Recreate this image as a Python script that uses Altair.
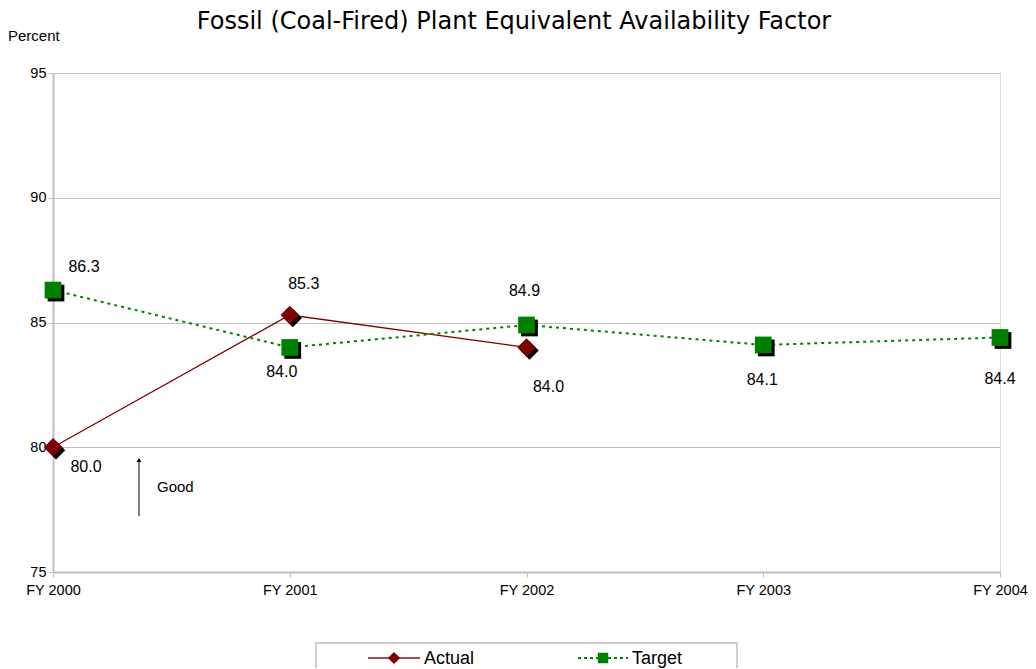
import altair as alt
import pandas as pd

years = ["FY 2000", "FY 2001", "FY 2002", "FY 2003", "FY 2004"]
actual = [80.0, 85.3, 84.0]
target = [86.3, 84.0, 84.9, 84.1, 84.4]
y_ticks = [75, 80, 85, 90, 95]
title_text = "Fossil (Coal-Fired) Plant Equivalent Availability Factor"

W, H = 947, 499
GRID = "#c0c0c0"
RED = "#800000"
GREEN = "#008000"
FONT = "Liberation Sans"

act_df = pd.DataFrame({"year": years[:len(actual)], "value": actual, "series": "Actual"})
tgt_df = pd.DataFrame({"year": years, "value": target, "series": "Target"})

x = alt.X("year:N", sort=years,
          scale=alt.Scale(type="point", padding=0, domain=years),
          axis=alt.Axis(title=None, labelAngle=0, labelFont=FONT, labelFontSize=14.5,
                        labelColor="black", domainColor=GRID, domainWidth=2,
                        tickColor=GRID, tickSize=5, labelPadding=6, grid=False))
y = alt.Y("value:Q",
          scale=alt.Scale(domain=[75, 95], nice=False, zero=False),
          axis=alt.Axis(title=None, values=y_ticks, labelFont=FONT, labelFontSize=14.5,
                        labelColor="black", domainColor=GRID, domainWidth=2,
                        tickColor=GRID, tickSize=5, labelPadding=2,
                        grid=True, gridColor=GRID, gridWidth=1))

act_line = alt.Chart(act_df).mark_line(color=RED, strokeWidth=1.3).encode(x=x, y=y)
tgt_line = alt.Chart(tgt_df).mark_line(color=GREEN, strokeWidth=2, strokeDash=[3, 4]).encode(x=x, y=y)

act_shadow = alt.Chart(act_df).mark_point(shape="diamond", size=340, filled=True, color="black",
                                          opacity=1, xOffset=3, yOffset=3).encode(x=x, y=y)
act_pts = alt.Chart(act_df).mark_point(shape="diamond", size=340, filled=True, color=RED,
                                       opacity=1).encode(x=x, y=y)
tgt_shadow = alt.Chart(tgt_df).mark_point(shape="square", size=280, filled=True, color="black",
                                          opacity=1, xOffset=3, yOffset=3).encode(x=x, y=y)
tgt_pts = alt.Chart(tgt_df).mark_point(shape="square", size=280, filled=True, color=GREEN,
                                       opacity=1).encode(x=x, y=y)

# per-label offsets (pixels), as placed in the original chart
act_off = [(33, 20), (14, -31), (22, 40)]
tgt_off = [(31, -23), (-8, 25), (-2, -34), (-1, 35), (0, 42)]

label_layers = []
for df, offs in ((act_df, act_off), (tgt_df, tgt_off)):
    for i, (dx, dy) in enumerate(offs):
        row = df.iloc[[i]].copy()
        row["label"] = row["value"].map(lambda v: f"{v:.1f}")
        label_layers.append(
            alt.Chart(row).mark_text(font=FONT, fontSize=16, color="black", dx=dx, dy=dy,
                                     baseline="middle", align="center")
            .encode(x=x, y=y, text="label:N"))

anno = pd.DataFrame({"k": [0]})
base = alt.Chart(anno)

title = base.mark_text(text=title_text, font="DejaVu Sans", fontSize=24, color="black",
                       align="center", baseline="middle").encode(
    x=alt.value(461), y=alt.value(-51))
ylab = base.mark_text(text="Percent", font=FONT, fontSize=15, color="black",
                      align="left", baseline="middle").encode(
    x=alt.value(-45), y=alt.value(-37))

arrow = base.mark_rule(color="black", strokeWidth=1).encode(
    x=alt.value(86), y=alt.value(386), y2=alt.value(443))
arrow_head = base.mark_point(shape="triangle-up", size=22, filled=True, color="black",
                             opacity=1).encode(x=alt.value(86), y=alt.value(387))
good = base.mark_text(text="Good", font=FONT, fontSize=15, color="black",
                      align="left", baseline="middle").encode(x=alt.value(104), y=alt.value(414))

# legend
leg_box = base.mark_rect(fill="white", stroke=GRID, strokeWidth=1.5).encode(
    x=alt.value(263), x2=alt.value(684), y=alt.value(570), y2=alt.value(620))
leg_act_line = base.mark_rule(color="#a05050", strokeWidth=2).encode(
    x=alt.value(315), x2=alt.value(367), y=alt.value(585))
leg_act_pt = base.mark_point(shape="diamond", size=150, filled=True, color=RED, opacity=1).encode(
    x=alt.value(341), y=alt.value(585))
leg_act_txt = base.mark_text(text="Actual", font=FONT, fontSize=18, color="black",
                             align="left", baseline="middle").encode(x=alt.value(371), y=alt.value(586))
leg_tgt_line = base.mark_rule(color=GREEN, strokeWidth=2, strokeDash=[3, 3]).encode(
    x=alt.value(525), x2=alt.value(575), y=alt.value(585))
leg_tgt_pt = base.mark_point(shape="square", size=110, filled=True, color=GREEN, opacity=1).encode(
    x=alt.value(550), y=alt.value(585))
leg_tgt_txt = base.mark_text(text="Target", font=FONT, fontSize=18, color="black",
                             align="left", baseline="middle").encode(x=alt.value(579), y=alt.value(586))

chart = alt.layer(
    act_line, tgt_line, act_shadow, tgt_shadow, act_pts, tgt_pts, *label_layers,
    title, ylab, arrow, arrow_head, good,
    leg_box, leg_act_line, leg_act_pt, leg_act_txt, leg_tgt_line, leg_tgt_pt, leg_tgt_txt,
).properties(
    width=W, height=H,
    autosize=alt.AutoSizeParams(type="none"),
    padding={"left": 45, "top": 65, "right": 28, "bottom": 96},
).configure_view(stroke=GRID, strokeWidth=1.5).configure(background="white")

chart.save("out.html", embed_options={"renderer": "svg", "actions": False})
